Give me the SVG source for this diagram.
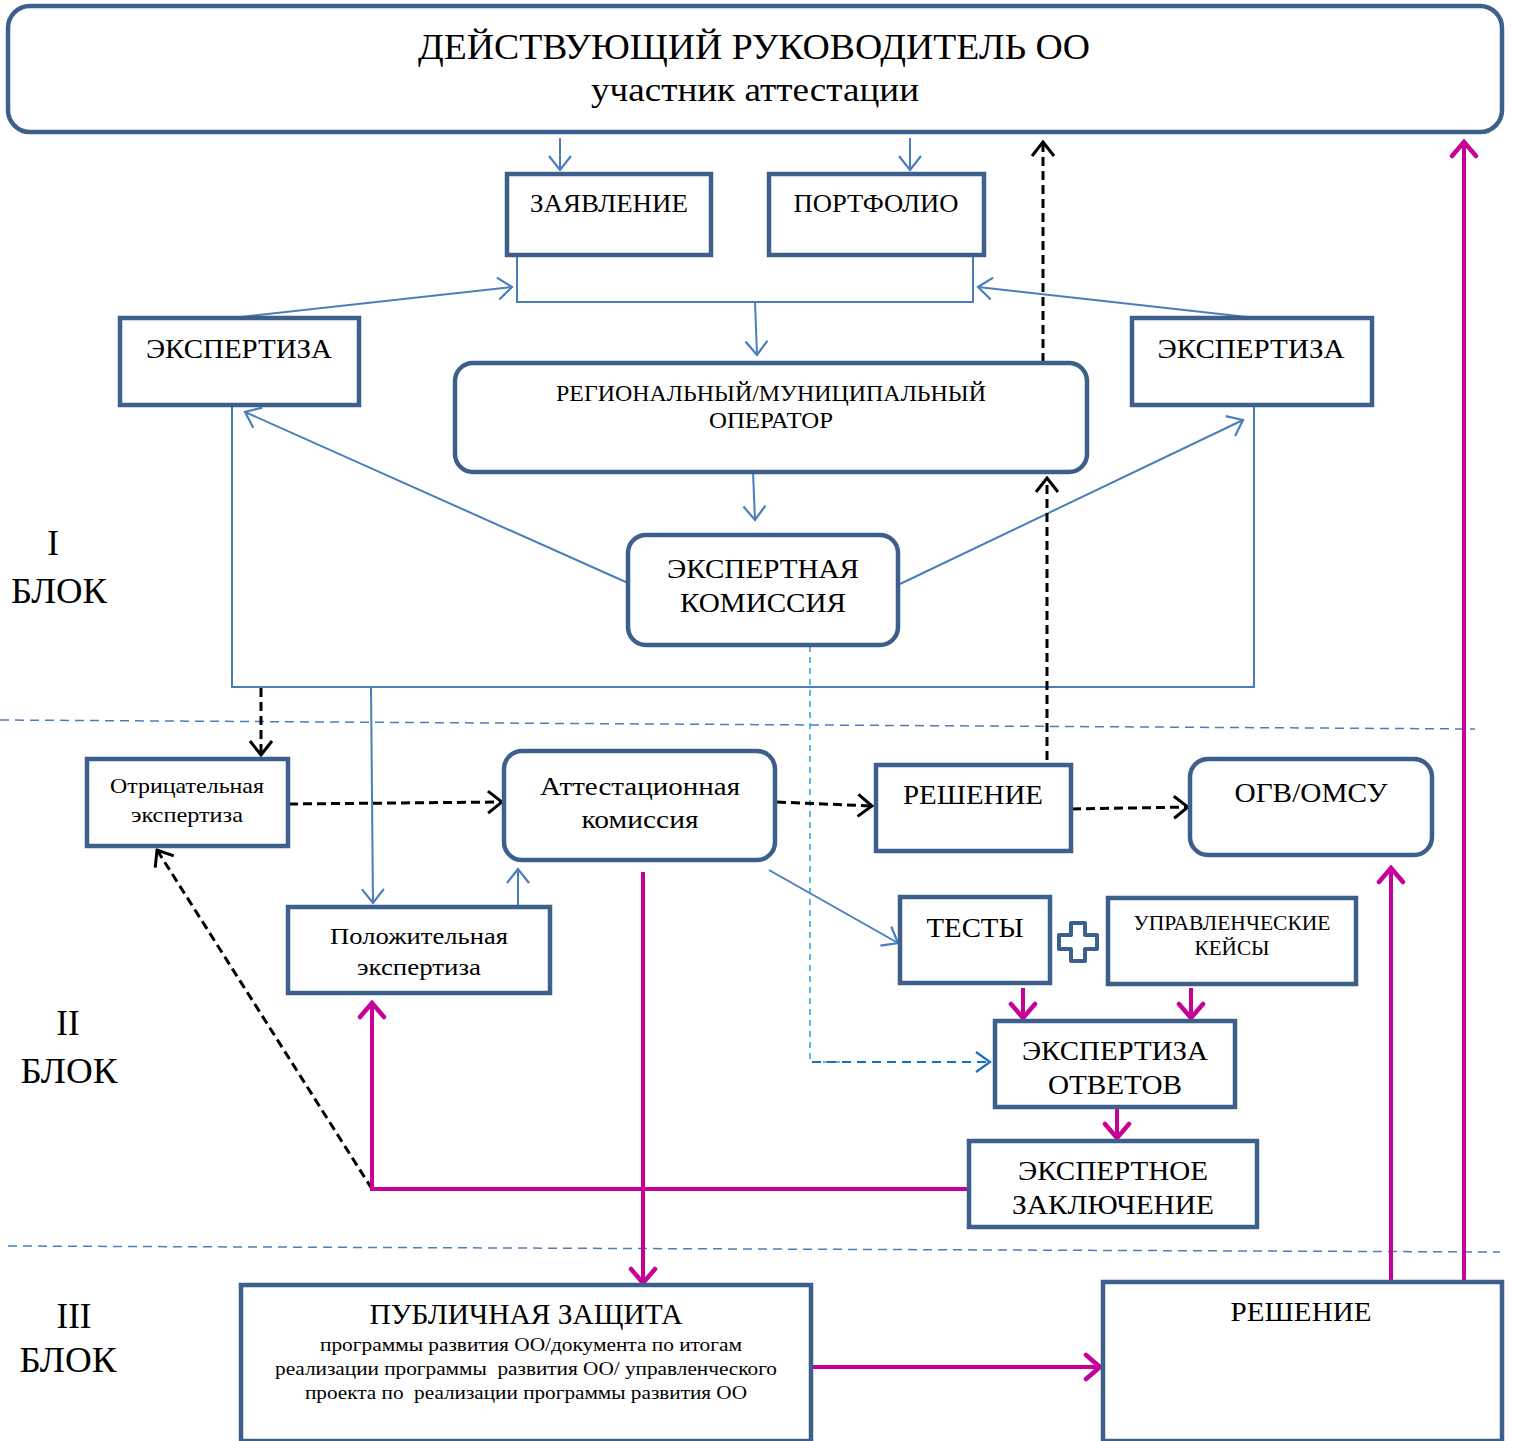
<svg xmlns="http://www.w3.org/2000/svg" width="1515" height="1441" viewBox="0 0 1515 1441">
<style>
.box{fill:#fff;stroke:#3d5f8c;stroke-width:4.5}
.t{font-family:"Liberation Serif","Times New Roman",serif;fill:#000;text-anchor:middle}
.blue{stroke:#4a7ebb;stroke-width:2;fill:none}
.blk{stroke:#000;stroke-width:3;fill:none;stroke-dasharray:9,5}
.mag{stroke:#c8009a;stroke-width:4;fill:none}
.sep{stroke:#4a7ebb;stroke-width:1.5;fill:none;stroke-dasharray:9,6}
.lb{stroke:#2aa3dc;stroke-width:1.5;fill:none;stroke-dasharray:6,5}
.lb2{stroke:#1a70c0;stroke-width:2;fill:none;stroke-dasharray:9,6}
</style>
<defs>
<marker id="aB" markerUnits="userSpaceOnUse" markerWidth="18" markerHeight="26" viewBox="0 0 18 26" refX="16" refY="13" orient="auto"><path d="M2,2 L16,13 L2,24" fill="none" stroke="#4a7ebb" stroke-width="2.2"/></marker>
<marker id="aK" markerUnits="userSpaceOnUse" markerWidth="18" markerHeight="26" viewBox="0 0 18 26" refX="16" refY="13" orient="auto"><path d="M2,2 L16,13 L2,24" fill="none" stroke="#000" stroke-width="3"/></marker>
<marker id="aM" markerUnits="userSpaceOnUse" markerWidth="20" markerHeight="30" viewBox="0 0 20 30" refX="17" refY="15" orient="auto"><path d="M3,3 L17,15 L3,27" fill="none" stroke="#c8009a" stroke-width="4.5" stroke-linecap="round"/></marker>
<marker id="aL" markerUnits="userSpaceOnUse" markerWidth="18" markerHeight="26" viewBox="0 0 18 26" refX="16" refY="13" orient="auto"><path d="M2,3 L16,13 L2,23" fill="none" stroke="#1a70c0" stroke-width="2.2"/></marker>
</defs>

<g id="separators">
<path class="sep" d="M0,720 L1475,729"/>
<path class="sep" d="M8,1246 L1500,1252"/>
</g>

<g id="connectors">
<path class="blue" d="M560,138 V170" marker-end="url(#aB)"/>
<path class="blue" d="M910,138 V170" marker-end="url(#aB)"/>
<path class="blue" d="M517,257 V302 H973 V257"/>
<path class="blue" d="M755,302 L757,355" marker-end="url(#aB)"/>
<path class="blue" d="M232,318 L512,287" marker-end="url(#aB)"/>
<path class="blue" d="M1256,318 L978,287" marker-end="url(#aB)"/>
<path class="blue" d="M753,472 L755,520" marker-end="url(#aB)"/>
<path class="blue" d="M628,583 L245,412" marker-end="url(#aB)"/>
<path class="blue" d="M900,584 L1243,420" marker-end="url(#aB)"/>
<path class="blue" d="M232,405 V687 H1254 V405"/>
<path class="blue" d="M371,687 L373,903" marker-end="url(#aB)"/>
<path class="blue" d="M518,907 V869" marker-end="url(#aB)"/>
<path class="blue" d="M769,870 L898,943" marker-end="url(#aB)"/>
<path class="lb" d="M810,646 V1062 H850"/>
<path class="lb2" d="M812,1062 H990" marker-end="url(#aL)"/>
<path class="blk" d="M261,688 V755" marker-end="url(#aK)"/>
<path class="blk" d="M289,804 L502,802" marker-end="url(#aK)"/>
<path class="blk" d="M777,802 L872,806" marker-end="url(#aK)"/>
<path class="blk" d="M1072,809 L1188,807" marker-end="url(#aK)"/>
<path class="blk" d="M1047,760 V478" marker-end="url(#aK)"/>
<path class="blk" d="M1043,362 V142" marker-end="url(#aK)"/>
<path class="blk" d="M372,1189 L157,850" marker-end="url(#aK)"/>
<path class="mag" d="M1023,988 V1018" marker-end="url(#aM)"/>
<path class="mag" d="M1191,988 V1018" marker-end="url(#aM)"/>
<path class="mag" d="M1117,1109 V1138" marker-end="url(#aM)"/>
<path class="mag" d="M969,1189 H372 V1003" marker-end="url(#aM)"/>
<path class="mag" d="M643,872 V1283" marker-end="url(#aM)"/>
<path class="mag" d="M812,1367 H1100" marker-end="url(#aM)"/>
<path class="mag" d="M1391,1282 V868" marker-end="url(#aM)"/>
<path class="mag" d="M1464,1282 V142" marker-end="url(#aM)"/>
</g>

<g id="n-top">
<rect class="box" x="8" y="6" width="1494" height="126" rx="22"/>
<text class="t" x="754" y="59" font-size="36" textLength="672" lengthAdjust="spacingAndGlyphs">ДЕЙСТВУЮЩИЙ РУКОВОДИТЕЛЬ ОО</text>
<text class="t" x="755" y="101" font-size="33" textLength="328" lengthAdjust="spacingAndGlyphs">участник аттестации</text>
</g>
<g id="n-zayavl">
<rect class="box" x="507" y="174" width="204" height="81"/>
<text class="t" x="609" y="212" font-size="25" textLength="158" lengthAdjust="spacingAndGlyphs">ЗАЯВЛЕНИЕ</text>
</g>
<g id="n-portf">
<rect class="box" x="769" y="174" width="215" height="81"/>
<text class="t" x="876" y="212" font-size="25" textLength="165" lengthAdjust="spacingAndGlyphs">ПОРТФОЛИО</text>
</g>
<g id="n-exp-left">
<rect class="box" x="120" y="318" width="239" height="87"/>
<text class="t" x="239" y="358" font-size="27" textLength="186" lengthAdjust="spacingAndGlyphs">ЭКСПЕРТИЗА</text>
</g>
<g id="n-exp-right">
<rect class="box" x="1132" y="318" width="240" height="87"/>
<text class="t" x="1251" y="358" font-size="27" textLength="187" lengthAdjust="spacingAndGlyphs">ЭКСПЕРТИЗА</text>
</g>
<g id="n-operator">
<rect class="box" x="455" y="363" width="632" height="109" rx="18"/>
<text class="t" x="771" y="401" font-size="23" textLength="430" lengthAdjust="spacingAndGlyphs">РЕГИОНАЛЬНЫЙ/МУНИЦИПАЛЬНЫЙ</text>
<text class="t" x="771" y="428" font-size="23" textLength="124" lengthAdjust="spacingAndGlyphs">ОПЕРАТОР</text>
</g>
<g id="n-expcom">
<rect class="box" x="628" y="535" width="270" height="110" rx="18"/>
<text class="t" x="763" y="578" font-size="28" textLength="192" lengthAdjust="spacingAndGlyphs">ЭКСПЕРТНАЯ</text>
<text class="t" x="763" y="612" font-size="28" textLength="166" lengthAdjust="spacingAndGlyphs">КОМИССИЯ</text>
</g>
<g id="n-neg">
<rect class="box" x="87" y="759" width="201" height="87"/>
<text class="t" x="187" y="793" font-size="21" textLength="154" lengthAdjust="spacingAndGlyphs">Отрицательная</text>
<text class="t" x="187" y="822" font-size="21" textLength="112" lengthAdjust="spacingAndGlyphs">экспертиза</text>
</g>
<g id="n-attcom">
<rect class="box" x="504" y="751" width="271" height="109" rx="18"/>
<text class="t" x="640" y="795" font-size="26" textLength="200" lengthAdjust="spacingAndGlyphs">Аттестационная</text>
<text class="t" x="640" y="828" font-size="26" textLength="117" lengthAdjust="spacingAndGlyphs">комиссия</text>
</g>
<g id="n-resh1">
<rect class="box" x="876" y="765" width="195" height="86"/>
<text class="t" x="973" y="804" font-size="27" textLength="140" lengthAdjust="spacingAndGlyphs">РЕШЕНИЕ</text>
</g>
<g id="n-ogv">
<rect class="box" x="1190" y="759" width="242" height="96" rx="18"/>
<text class="t" x="1311" y="802" font-size="27" textLength="153" lengthAdjust="spacingAndGlyphs">ОГВ/ОМСУ</text>
</g>
<g id="n-pos">
<rect class="box" x="288" y="907" width="262" height="86"/>
<text class="t" x="419" y="944" font-size="24" textLength="178" lengthAdjust="spacingAndGlyphs">Положительная</text>
<text class="t" x="419" y="975" font-size="24" textLength="124" lengthAdjust="spacingAndGlyphs">экспертиза</text>
</g>
<g id="n-tests">
<rect class="box" x="900" y="897" width="150" height="86"/>
<text class="t" x="975" y="937" font-size="28" textLength="97" lengthAdjust="spacingAndGlyphs">ТЕСТЫ</text>
</g>
<g id="n-plus">
<path d="M1071,923 h14 v12 h12 v14 h-12 v12 h-14 v-12 h-12 v-14 h12 z" fill="#fff" stroke="#3d5f8c" stroke-width="4" stroke-linejoin="round"/>
</g>
<g id="n-cases">
<rect class="box" x="1108" y="898" width="248" height="86"/>
<text class="t" x="1232" y="930" font-size="20" textLength="197" lengthAdjust="spacingAndGlyphs">УПРАВЛЕНЧЕСКИЕ</text>
<text class="t" x="1232" y="955" font-size="20" textLength="75" lengthAdjust="spacingAndGlyphs">КЕЙСЫ</text>
</g>
<g id="n-expotv">
<rect class="box" x="995" y="1021" width="240" height="86"/>
<text class="t" x="1115" y="1060" font-size="28" textLength="186" lengthAdjust="spacingAndGlyphs">ЭКСПЕРТИЗА</text>
<text class="t" x="1115" y="1094" font-size="28" textLength="134" lengthAdjust="spacingAndGlyphs">ОТВЕТОВ</text>
</g>
<g id="n-zakl">
<rect class="box" x="969" y="1141" width="288" height="86"/>
<text class="t" x="1113" y="1180" font-size="28" textLength="190" lengthAdjust="spacingAndGlyphs">ЭКСПЕРТНОЕ</text>
<text class="t" x="1113" y="1214" font-size="28" textLength="202" lengthAdjust="spacingAndGlyphs">ЗАКЛЮЧЕНИЕ</text>
</g>
<g id="n-public">
<rect class="box" x="241" y="1285" width="570" height="156"/>
<text class="t" x="526" y="1324" font-size="29" textLength="313" lengthAdjust="spacingAndGlyphs">ПУБЛИЧНАЯ ЗАЩИТА</text>
<text class="t" x="531" y="1351" font-size="19" textLength="422" lengthAdjust="spacingAndGlyphs">программы развития ОО/документа по итогам</text>
<text class="t" x="526" y="1375" font-size="19" textLength="502" lengthAdjust="spacingAndGlyphs" xml:space="preserve">реализации программы  развития ОО/ управленческого</text>
<text class="t" x="526" y="1399" font-size="19" textLength="442" lengthAdjust="spacingAndGlyphs" xml:space="preserve">проекта по  реализации программы развития ОО</text>
</g>
<g id="n-resh2">
<rect class="box" x="1103" y="1282" width="399" height="159"/>
<text class="t" x="1301" y="1321" font-size="27" textLength="141" lengthAdjust="spacingAndGlyphs">РЕШЕНИЕ</text>
</g>
<g id="labels">
<text class="t" x="53" y="555" font-size="35">I</text>
<text class="t" x="59" y="603" font-size="35" textLength="96" lengthAdjust="spacingAndGlyphs">БЛОК</text>
<text class="t" x="68" y="1035" font-size="35">II</text>
<text class="t" x="69" y="1083" font-size="35" textLength="97" lengthAdjust="spacingAndGlyphs">БЛОК</text>
<text class="t" x="74" y="1328" font-size="35">III</text>
<text class="t" x="68" y="1372" font-size="35" textLength="97" lengthAdjust="spacingAndGlyphs">БЛОК</text>
</g>
</svg>
